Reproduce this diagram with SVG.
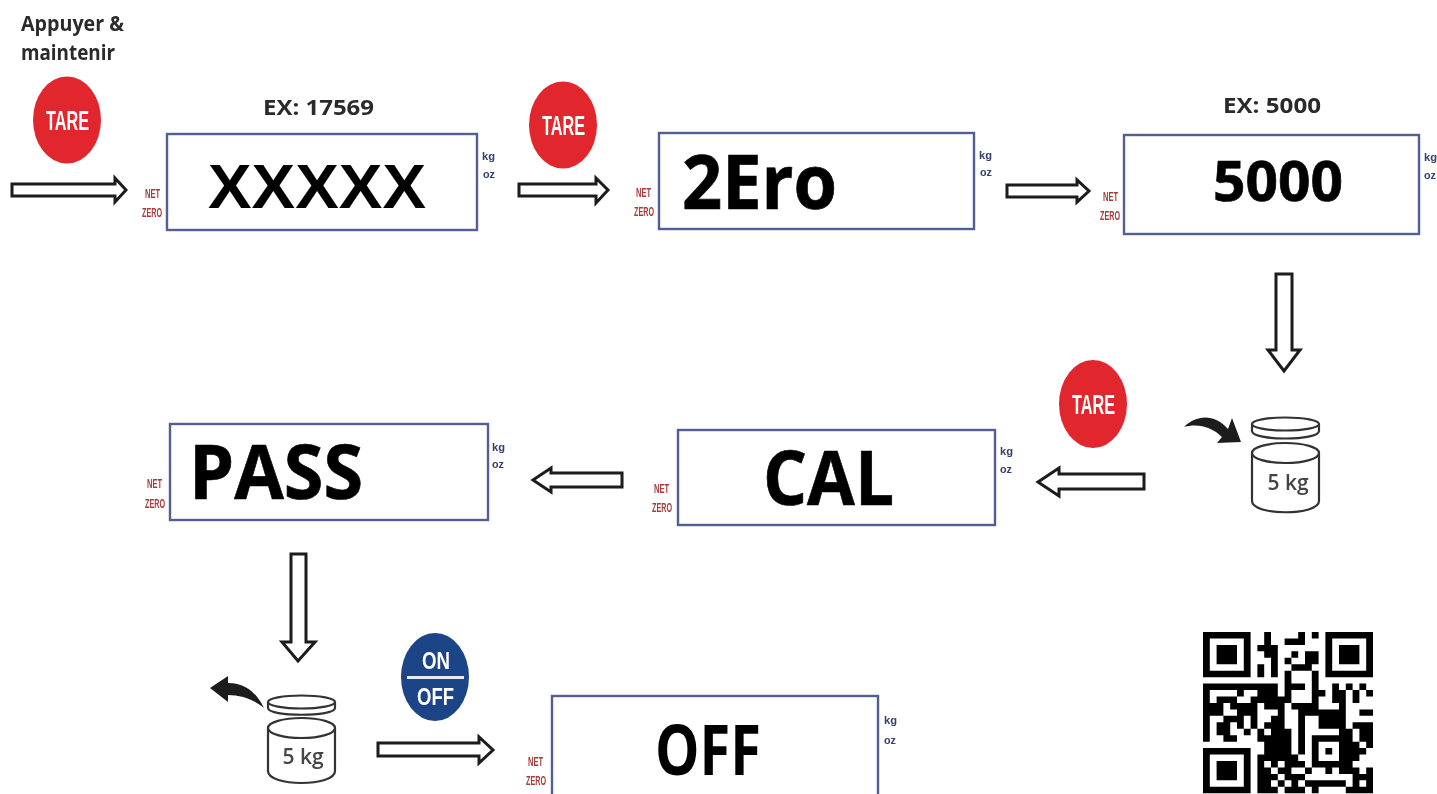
<svg xmlns="http://www.w3.org/2000/svg" width="1437" height="794" viewBox="0 0 1437 794">
<style>
text{font-family:"Open Sans","Liberation Sans",sans-serif;font-weight:700}
.box{fill:#fff;stroke:#525f92;stroke-width:2.4}
.disp{fill:#050505;stroke:#050505;stroke-width:.7}
.net{fill:#a83a3a;font-size:12px;font-family:"Liberation Sans",sans-serif}
.unit{fill:#33406f;font-size:11px;font-family:"Liberation Sans",sans-serif}
.lab{fill:#2b2b2b;font-size:21px}
.btn{fill:#fff;font-family:"Liberation Sans",sans-serif}
.arr{fill:#fff;stroke:#1c1c1c;stroke-width:3;stroke-linejoin:miter}
.w{fill:#fff;stroke:#333;stroke-width:2.2}
.wt{fill:#444;font-weight:600;font-size:21px;text-anchor:middle}
</style>
<defs><filter id="soft" x="-2%" y="-2%" width="104%" height="104%"><feGaussianBlur stdDeviation="0.6"/></filter></defs>
<rect width="1437" height="794" fill="#fff"/>
<g filter="url(#soft)">
<g id="connectors">
<polygon class="arr" points="12,184 115,184 115,178 126,190 115,202 115,196 12,196"/>
<polygon class="arr" points="519,184 596,184 596,178 608,190 596,203 596,196 519,196"/>
<polygon class="arr" points="1007,185 1077,185 1077,180 1089,191 1077,202 1077,197 1007,197"/>
<polygon class="arr" points="1276,274 1292,274 1292,350 1300,350 1284,371 1268,350 1276,350"/>
<polygon class="arr" points="1144,474 1059,474 1059,468 1038,482 1059,496 1059,489 1144,489"/>
<polygon class="arr" points="622,473 551,473 551,468 533,480 551,492 551,487 622,487"/>
<polygon class="arr" points="291,554 306,554 306,642 315,642 298,661 282,642 291,642"/>
<polygon class="arr" points="378,743 479,743 479,737 493,750 479,763 479,756 378,756"/>
</g>
<g id="label-press"><text class="lab" x="21" y="31" textLength="103" lengthAdjust="spacingAndGlyphs">Appuyer &amp;</text><text class="lab" x="21" y="60" textLength="94" lengthAdjust="spacingAndGlyphs">maintenir</text></g>
<g id="tare-1"><ellipse cx="67" cy="120" rx="34" ry="43.5" fill="#e1262d"/><text class="btn" x="46" y="130" font-size="27" textLength="43" lengthAdjust="spacingAndGlyphs">TARE</text></g>
<g id="tare-2"><ellipse cx="563" cy="125" rx="34" ry="43.5" fill="#e1262d"/><text class="btn" x="542" y="135" font-size="27" textLength="43" lengthAdjust="spacingAndGlyphs">TARE</text></g>
<g id="tare-3"><ellipse cx="1093" cy="404" rx="34" ry="44" fill="#e1262d"/><text class="btn" x="1072" y="414" font-size="27" textLength="43" lengthAdjust="spacingAndGlyphs">TARE</text></g>
<g id="onoff"><ellipse cx="435" cy="677" rx="34" ry="44" fill="#1d4487"/><rect x="407" y="676" width="57" height="3" fill="#e6e9f2"/><text class="btn" x="422" y="669" font-size="24" textLength="28" lengthAdjust="spacingAndGlyphs">ON</text><text class="btn" x="417" y="705" font-size="24" textLength="37" lengthAdjust="spacingAndGlyphs">OFF</text></g>

<g id="display-1"><text class="lab" x="263" y="115" textLength="111" lengthAdjust="spacingAndGlyphs">EX: 17569</text><rect class="box" x="167" y="134" width="310" height="96"/><text x="208" y="208" font-size="63" textLength="218" lengthAdjust="spacingAndGlyphs" style="font-family:'Liberation Sans',sans-serif" fill="#050505">XXXXX</text><text class="net" x="145" y="198" textLength="15" lengthAdjust="spacingAndGlyphs">NET</text><text class="net" x="142" y="217" textLength="20" lengthAdjust="spacingAndGlyphs">ZERO</text><text class="unit" x="482" y="160" textLength="13" lengthAdjust="spacingAndGlyphs">kg</text><text class="unit" x="483" y="178" textLength="12" lengthAdjust="spacingAndGlyphs">oz</text></g>
<g id="display-2"><rect class="box" x="659" y="133" width="315" height="96"/><text class="disp" x="682" y="209" font-size="75" textLength="155" lengthAdjust="spacingAndGlyphs">2Ero</text><text class="net" x="636" y="197" textLength="15" lengthAdjust="spacingAndGlyphs">NET</text><text class="net" x="634" y="216" textLength="20" lengthAdjust="spacingAndGlyphs">ZERO</text><text class="unit" x="979" y="159" textLength="13" lengthAdjust="spacingAndGlyphs">kg</text><text class="unit" x="980" y="176" textLength="12" lengthAdjust="spacingAndGlyphs">oz</text></g>
<g id="display-3"><text class="lab" x="1223" y="113" textLength="98" lengthAdjust="spacingAndGlyphs">EX: 5000</text><rect class="box" x="1124" y="135" width="295" height="99"/><text class="disp" x="1213" y="201" font-size="56" textLength="130" lengthAdjust="spacingAndGlyphs">5000</text><text class="net" x="1103" y="201" textLength="15" lengthAdjust="spacingAndGlyphs">NET</text><text class="net" x="1100" y="220" textLength="20" lengthAdjust="spacingAndGlyphs">ZERO</text><text class="unit" x="1424" y="161" textLength="13" lengthAdjust="spacingAndGlyphs">kg</text><text class="unit" x="1424" y="179" textLength="12" lengthAdjust="spacingAndGlyphs">oz</text></g>
<g id="display-4"><rect class="box" x="170" y="424" width="318" height="96"/><text class="disp" x="189" y="499" font-size="76" textLength="174" lengthAdjust="spacingAndGlyphs">PASS</text><text class="net" x="147" y="488" textLength="15" lengthAdjust="spacingAndGlyphs">NET</text><text class="net" x="145" y="508" textLength="20" lengthAdjust="spacingAndGlyphs">ZERO</text><text class="unit" x="492" y="451" textLength="13" lengthAdjust="spacingAndGlyphs">kg</text><text class="unit" x="492" y="468" textLength="12" lengthAdjust="spacingAndGlyphs">oz</text></g>
<g id="display-5"><rect class="box" x="678" y="430" width="317" height="95"/><text class="disp" x="763" y="505" font-size="76" textLength="131" lengthAdjust="spacingAndGlyphs">CAL</text><text class="net" x="654" y="493" textLength="15" lengthAdjust="spacingAndGlyphs">NET</text><text class="net" x="652" y="512" textLength="20" lengthAdjust="spacingAndGlyphs">ZERO</text><text class="unit" x="1000" y="455" textLength="13" lengthAdjust="spacingAndGlyphs">kg</text><text class="unit" x="1000" y="473" textLength="12" lengthAdjust="spacingAndGlyphs">oz</text></g>
<g id="display-6"><rect class="box" x="552" y="696" width="326" height="110"/><text x="655" y="775" font-size="70" textLength="106" lengthAdjust="spacingAndGlyphs" fill="#050505">OFF</text><text class="net" x="528" y="766" textLength="15" lengthAdjust="spacingAndGlyphs">NET</text><text class="net" x="526" y="785" textLength="20" lengthAdjust="spacingAndGlyphs">ZERO</text><text class="unit" x="884" y="724" textLength="13" lengthAdjust="spacingAndGlyphs">kg</text><text class="unit" x="884" y="744" textLength="12" lengthAdjust="spacingAndGlyphs">oz</text></g>

<g id="weight-on">
<path class="w" d="M1252 453V501C1252 516 1319 516 1319 501V453"/>
<ellipse class="w" cx="1285.500" cy="453" rx="33.500" ry="10"/>
<path class="w" d="M1252 424V431C1252 441 1319 441 1319 431V424"/>
<ellipse class="w" cx="1285.500" cy="424" rx="33.500" ry="6.500"/>
<text class="wt" x="1288" y="490">5 kg</text>
<path fill="#1e1e1e" d="M1184 427C1196 415 1214 413 1228 429L1232 418L1241 442L1217 443L1222 437C1212 427 1198 423 1184 427Z"/>
</g>
<g id="weight-off">
<path class="w" d="M268 728V771C268 787 335 787 335 771V728"/>
<ellipse class="w" cx="301.500" cy="728" rx="33.500" ry="10"/>
<path class="w" d="M268 702V708C268 717 335 717 335 708V702"/>
<ellipse class="w" cx="301.500" cy="702" rx="33.500" ry="6.500"/>
<text class="wt" x="303" y="764">5 kg</text>
<path fill="#1e1e1e" d="M264 708C256 692 245 683 228 683L228 676L210 688L228 702L228 695C240 695 253 699 264 708Z"/>
</g>

<g id="qr" transform="translate(1203 632) scale(6.8 6.45)">
<path fill="#000" fill-rule="evenodd" d="M0 0h7v7h-7zM1 1v5h5v-5zM2 2h3v3h-3zM18 0h7v7h-7zM19 1v5h5v-5zM20 2h3v3h-3zM0 18h7v7h-7zM1 19v5h5v-5zM2 20h3v3h-3z"/>
<path fill="none" stroke="#000" stroke-width="1" d="M9 .5h1M14 .5h1M16 .5h1M9 1.5h1M12 1.5h3M8 2.500h3M9 3.500h2M13 3.500h1M15 3.500h2M10 4.500h1M12 4.500h1M15 4.500h2M8 5.500h1M10 5.500h1M13 5.500h3M8 6.500h1M10 6.500h1M12 6.500h1M16 6.500h1M12 7.500h1M16 7.500h1M0 8.500h11M12 8.500h3M16 8.500h1M19 8.500h1M21 8.500h1M23 8.500h1M0 9.500h1M5 9.500h1M8 9.500h3M12 9.500h1M16 9.500h2M19 9.500h2M22 9.500h1M24 9.500h1M0 10.500h1M2 10.500h3M7 10.500h6M16 10.500h1M19 10.500h2M22 10.500h1M0 11.500h3M4 11.500h4M9 11.500h3M13 11.500h4M20 11.500h1M0 12.500h3M5 12.500h3M11 12.500h1M14 12.500h7M23 12.500h2M0 13.500h1M3 13.500h3M7 13.500h1M10 13.500h2M14 13.500h1M17 13.500h4M0 14.500h1M2 14.500h2M5 14.500h1M7 14.500h1M9 14.500h3M14 14.500h1M17 14.500h4M22 14.500h3M0 15.500h1M2 15.500h2M6 15.500h1M8 15.500h1M10 15.500h3M14 15.500h1M20 15.500h2M23 15.500h2M0 16.500h1M3 16.500h2M8 16.500h5M14 16.500h1M16 16.500h6M23 16.500h2M9 17.500h4M14 17.500h1M16 17.500h1M20 17.500h3M24 17.500h1M9 18.500h4M14 18.500h1M16 18.500h1M18 18.500h1M20 18.500h4M8 19.500h6M16 19.500h1M20 19.500h3M8 20.500h1M10 20.500h1M12 20.500h3M16 20.500h6M8 21.500h2M11 21.500h2M15 21.500h1M18 21.500h1M20 21.500h3M24 21.500h1M8 22.500h3M12 22.500h3M22 22.500h3M8 23.500h2M11 23.500h1M13 23.500h1M15 23.500h6M22 23.500h1M24 23.500h1M8 24.500h3M12 24.500h3M16 24.500h1M21 24.500h4"/>
</g>
</g>
</svg>
